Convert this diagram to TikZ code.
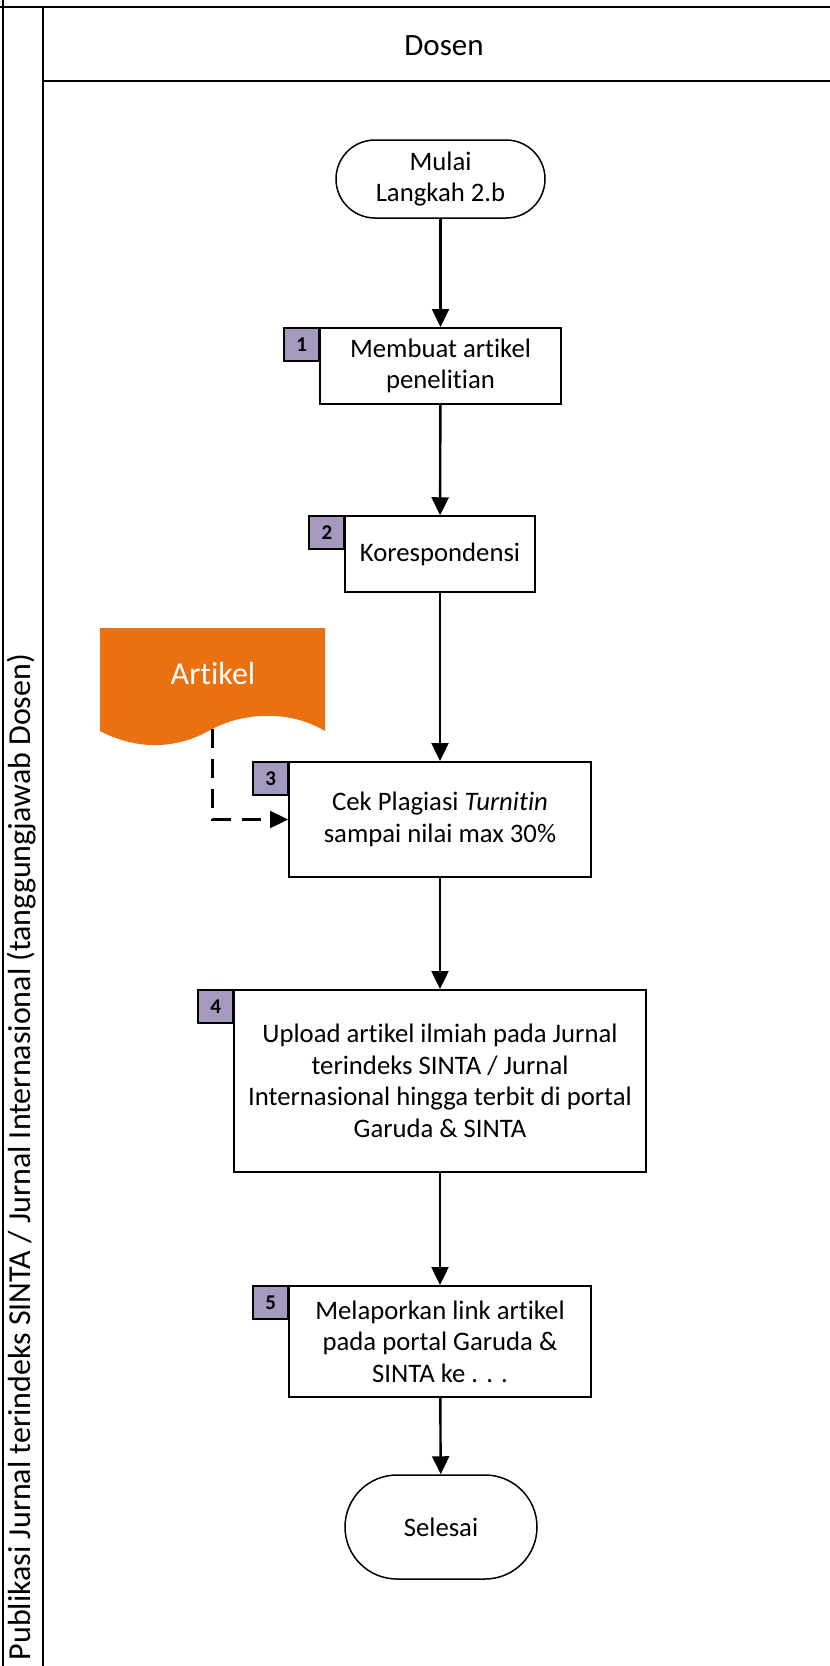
\documentclass[tikz,border=0pt]{standalone}
\usepackage{fontspec}
\setmainfont{Carlito}[Ligatures={NoCommon}]
\usetikzlibrary{arrows.meta,calc,shapes.misc}
\definecolor{artorange}{RGB}{233,113,17}
\definecolor{tagpurple}{RGB}{166,153,192}
\begin{document}
\begin{tikzpicture}[x=1pt,y=-1pt,
  lane/.style={line width=2pt},
  stepbox/.style={draw,line width=2pt,rectangle,align=center,inner sep=0pt,font=\fontsize{26.7}{31.5}\selectfont},
  term/.style={draw,line width=1.5pt,rounded rectangle,align=center,inner sep=0pt,font=\fontsize{26.7}{31.5}\selectfont},
  tag/.style={draw,line width=1.8pt,fill=tagpurple,minimum width=35pt,minimum height=33pt,inner sep=0pt,font=\bfseries\fontsize{21}{24}\selectfont},
  flow/.style={line width=2.4pt,-{Triangle[length=18pt,width=17pt]}},
  dflow/.style={line width=2.4pt,dash pattern=on 19pt off 11pt,-{Triangle[length=18pt,width=17pt]}}
]
\useasboundingbox (0,0) rectangle (830,1666);
% swimlane frame
\draw[lane] (0,7.4) -- (830,7.4);
\draw[lane] (3,0) -- (3,1666);
\draw[lane] (42.5,7.4) -- (42.5,1666);
\draw[lane] (42.5,81) -- (830,81);
\node[font=\fontsize{31}{36}\selectfont] (lanehead) at (444,46) {Dosen};
\node[rotate=90,font=\fontsize{32}{38}\selectfont] (lanename) at (22,1157) {Publikasi Jurnal terindeks SINTA / Jurnal Internasional (tanggungjawab Dosen)};
% nodes
\node[term,minimum width=209pt,minimum height=78pt] (start) at (440.5,179) {Mulai\\Langkah 2.b};
\node[stepbox,minimum width=241pt,minimum height=76pt] (b1) at (440.5,366) {Membuat artikel\\penelitian};
\node[stepbox,minimum width=189.5pt,minimum height=75.5pt] (b2) at (440,554) {Korespondensi};
\node[stepbox,minimum width=302pt,minimum height=115pt] (b3) at (440,819.5) {Cek Plagiasi \textit{Turnitin}\\sampai nilai max 30\%};
\node[stepbox,minimum width=412pt,minimum height=182pt] (b4) at (440,1081) {Upload artikel ilmiah pada Jurnal\\terindeks SINTA / Jurnal\\Internasional hingga terbit di portal\\Garuda \& SINTA};
\node[stepbox,minimum width=302pt,minimum height=111pt] (b5) at (440,1341.5) {Melaporkan link artikel\\pada portal Garuda \&\\SINTA ke . . .};
\node[term,minimum width=192pt,minimum height=104pt] (end) at (441,1527) {Selesai};
% tags
\node[tag,anchor=north east] (t1) at ([xshift=1pt]b1.north west) {1};
\node[tag,anchor=north east] (t2) at ([xshift=1pt]b2.north west) {2};
\node[tag,anchor=north east] (t3) at ([xshift=1pt]b3.north west) {3};
\node[tag,anchor=north east] (t4) at ([xshift=1pt]b4.north west) {4};
\node[tag,anchor=north east] (t5) at ([xshift=1pt]b5.north west) {5};
% document shape
\fill[artorange] (100,628) -- (325,628) -- (325,731)
  .. controls (290,710) and (245,712) .. (212,729)
  .. controls (180,748) and (140,752) .. (100,731) -- cycle;
\node[text=white,font=\fontsize{32}{38}\selectfont] (art) at (213,673) {Artikel};
\coordinate (artb) at (212.5,729);
% connectors
\draw[flow] (start) -- (b1);
\draw[flow] (b1) -- (b2);
\draw[flow] (b2) -- (b3);
\draw[flow] (b3) -- (b4);
\draw[flow] (b4) -- (b5);
\draw[flow] (b5) -- (end);
\draw[dflow] (artb) |- (b3.west);
\end{tikzpicture}
\end{document}
